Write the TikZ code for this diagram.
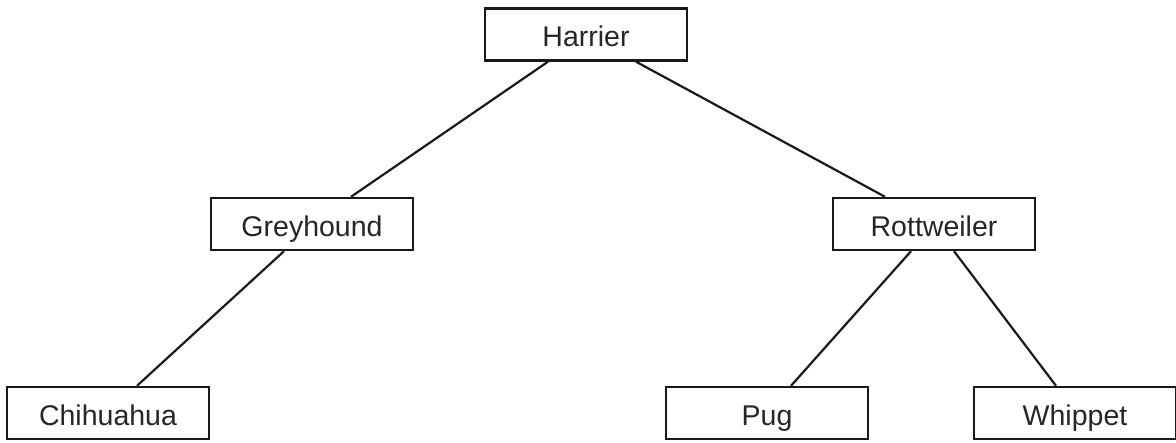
\documentclass[tikz,border=0pt]{standalone}
\usepackage{fontspec}
\setmainfont{Liberation Sans}
\begin{document}
\begin{tikzpicture}[x=1pt,y=1pt,
  breed/.style={draw=black!90, line width=2.4pt, fill=white, minimum width=202pt,
    minimum height=52pt, inner sep=0pt, text height=25pt, text depth=0pt,
    text=black!85, font=\fontsize{28.5}{30}\selectfont},
  link/.style={draw=black!90, line width=2.2pt}]
  \useasboundingbox (0,0) rectangle (1176,443);
  % tree nodes
  \node[breed] (harrier)    at (586,408.5) {Harrier};
  \node[breed] (greyhound)  at (312,219)   {Greyhound};
  \node[breed] (rottweiler) at (934,219)   {Rottweiler};
  \node[breed] (chihuahua)  at (108,30)    {Chihuahua};
  \node[breed] (pug)        at (767,30)    {Pug};
  \node[breed] (whippet)    at (1075,30)   {Whippet};
  % branches
  \draw[link] ([xshift=-38pt]harrier.south) -- ([xshift=39pt]greyhound.north);
  \draw[link] ([xshift=50pt]harrier.south) -- ([xshift=-49pt]rottweiler.north);
  \draw[link] ([xshift=-28pt]greyhound.south) -- ([xshift=29pt]chihuahua.north);
  \draw[link] ([xshift=-23pt]rottweiler.south) -- ([xshift=24pt]pug.north);
  \draw[link] ([xshift=20pt]rottweiler.south) -- ([xshift=-19pt]whippet.north);
\end{tikzpicture}
\end{document}
